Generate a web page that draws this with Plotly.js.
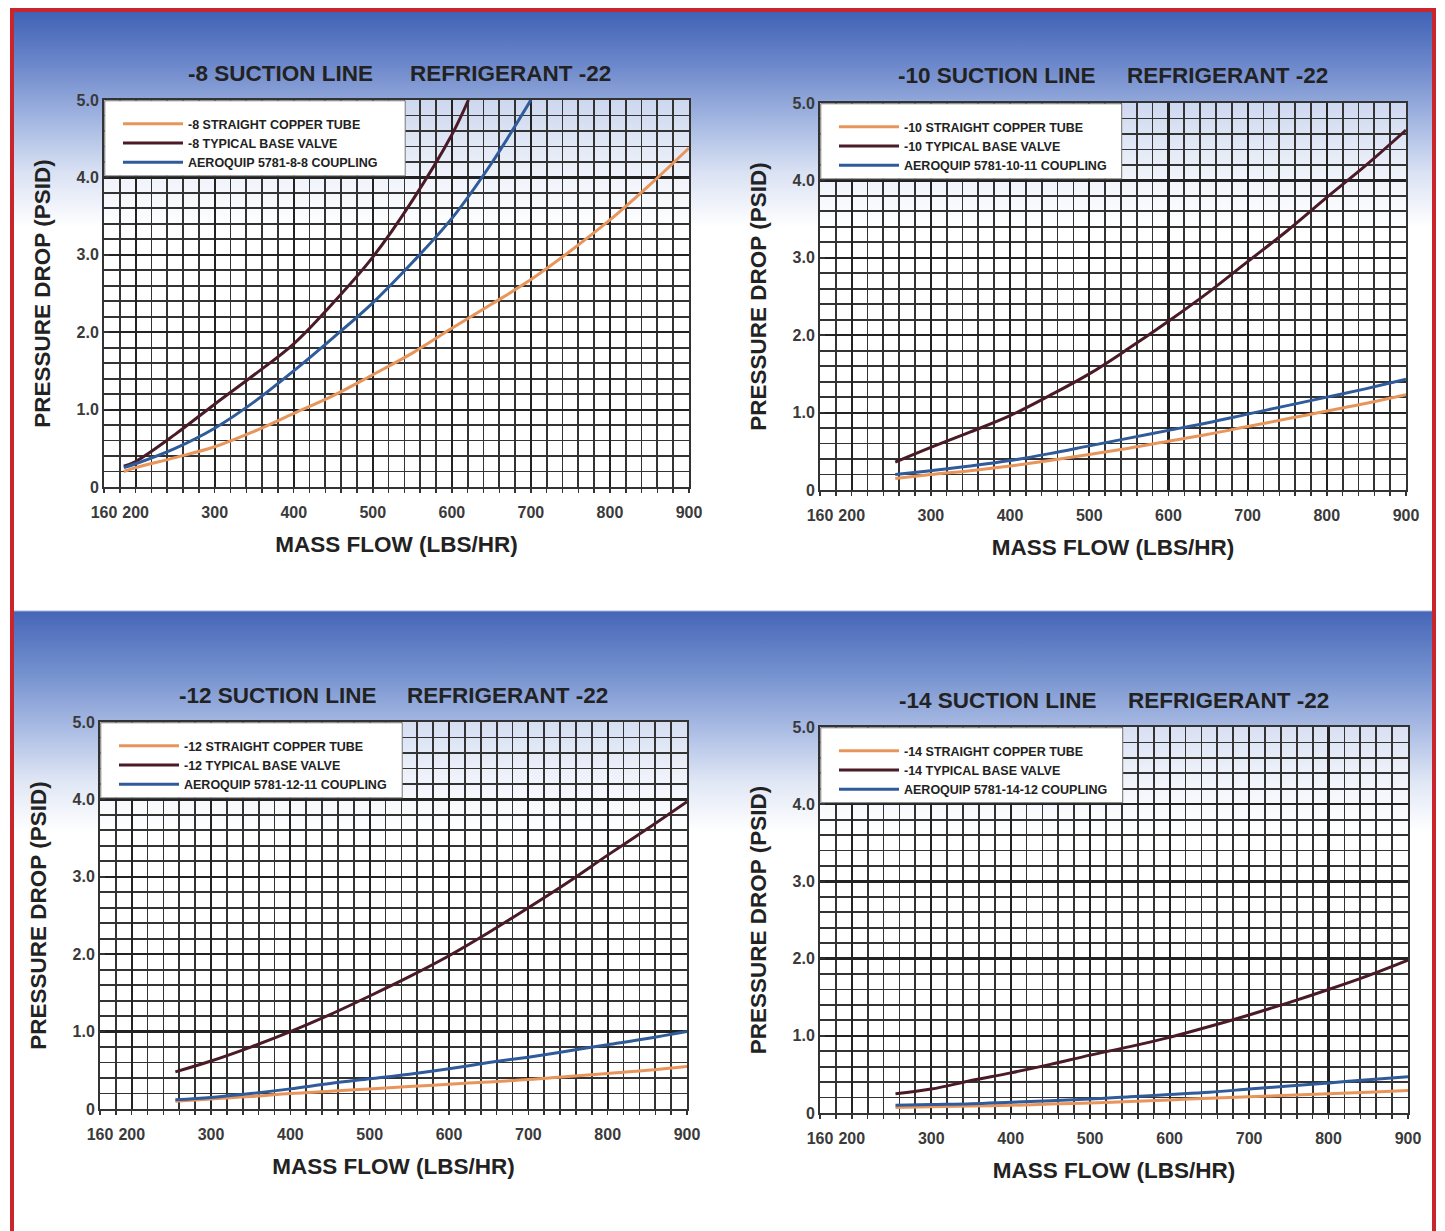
<!DOCTYPE html>
<html>
<head>
<meta charset="utf-8">
<script src="https://cdn.plot.ly/plotly-3.0.1.min.js"></script>
<style>
  html, body { margin:0; padding:0; background:#ffffff; }
  #wrap { position:relative; width:1445px; height:1231px; overflow:hidden; }
  #frame { position:absolute; left:10px; top:8px; width:1426px; height:1240px;
    border:4px solid #c8262c; box-sizing:border-box;
    background: linear-gradient(to bottom,
      #4062b5 0px, #6a86ca 50px, #a5b8e2 110px, #d9e1f3 160px, #ffffff 215px,
      #ffffff 598px, #4766b8 600px, #7390ce 660px, #adbee5 720px, #e0e7f5 770px, #ffffff 820px, #ffffff 100%);
  }
  #chart { position:absolute; left:0; top:0; width:1445px; height:1231px; }
</style>
</head>
<body>
<div id="wrap">
  <div id="frame"></div>
  <div id="chart"></div>
</div>
<script>
// ---------- DATA ----------
// Mass flow (lbs/hr) and pressure drop (psid)
const tube8X     = [185,200,250,300,350,400,450,500,550,600,650,700,750,800,850,900];
const tube8Y     = [0.20,0.25,0.38,0.52,0.72,0.95,1.18,1.45,1.73,2.05,2.36,2.68,3.05,3.45,3.90,4.38];
const valve8X    = [185,200,250,300,350,400,450,500,550,600,621];
const valve8Y    = [0.27,0.33,0.68,1.07,1.45,1.85,2.38,2.97,3.70,4.55,5.00];
const coupling8X = [185,200,250,300,350,400,450,500,550,600,650,700];
const coupling8Y = [0.25,0.30,0.50,0.76,1.10,1.50,1.93,2.38,2.90,3.47,4.18,5.00];

const flowX = [255,300,350,400,450,500,550,600,650,700,750,800,850,900];
const tube10Y     = [0.15,0.20,0.25,0.31,0.38,0.46,0.54,0.63,0.72,0.82,0.92,1.02,1.12,1.23];
const valve10Y    = [0.36,0.55,0.75,0.96,1.22,1.50,1.83,2.18,2.55,2.95,3.35,3.78,4.20,4.65];
const coupling10Y = [0.20,0.25,0.31,0.38,0.47,0.57,0.67,0.77,0.87,0.98,1.09,1.20,1.31,1.43];

const tube12Y     = [0.10,0.13,0.16,0.20,0.23,0.26,0.29,0.32,0.35,0.38,0.42,0.46,0.50,0.55];
const valve12Y    = [0.48,0.62,0.80,1.00,1.22,1.46,1.71,1.98,2.28,2.60,2.93,3.28,3.62,3.97];
const coupling12Y = [0.12,0.15,0.20,0.26,0.33,0.39,0.45,0.52,0.60,0.67,0.75,0.83,0.91,1.00];

const tube14Y     = [0.07,0.08,0.09,0.10,0.115,0.13,0.15,0.17,0.19,0.21,0.23,0.25,0.27,0.29];
const valve14Y    = [0.25,0.31,0.42,0.52,0.63,0.75,0.86,0.98,1.12,1.27,1.43,1.60,1.78,1.98];
const coupling14Y = [0.10,0.11,0.12,0.14,0.16,0.18,0.21,0.24,0.27,0.31,0.35,0.39,0.43,0.47];

const xTickVals = [160,200,300,400,500,600,700,800,900];
const xTickText = ["160","200","300","400","500","600","700","800","900"];
const yTickVals = [0,1,2,3,4,5];
const yTickText = ["0","1.0","2.0","3.0","4.0","5.0"];

const panelTitles = ["-8 SUCTION LINE","-10 SUCTION LINE","-12 SUCTION LINE","-14 SUCTION LINE"];
const refrigerant = "REFRIGERANT -22";
const names8  = ["-8 STRAIGHT COPPER TUBE","-8 TYPICAL BASE VALVE","AEROQUIP 5781-8-8 COUPLING"];
const names10 = ["-10 STRAIGHT COPPER TUBE","-10 TYPICAL BASE VALVE","AEROQUIP 5781-10-11 COUPLING"];
const names12 = ["-12 STRAIGHT COPPER TUBE","-12 TYPICAL BASE VALVE","AEROQUIP 5781-12-11 COUPLING"];
const names14 = ["-14 STRAIGHT COPPER TUBE","-14 TYPICAL BASE VALVE","AEROQUIP 5781-14-12 COUPLING"];

// ---------- STYLE ----------
const W = 1445, H = 1231;
const FONT = '"Liberation Sans", Arial, Helvetica, sans-serif';
const cTube = '#e8955c', cValve = '#4a1b27', cCoup = '#2f5b9b';

// plot areas in pixels [left, right, top, bottom]
const boxes = [
  [104, 689, 100, 487],
  [820, 1406, 103, 490],
  [100, 687, 722, 1109],
  [820, 1408, 727, 1113]
];
const px = v => v / W, py = v => 1 - v / H;

const sets = [
  {names:names8,  data:[[tube8X,tube8Y],[valve8X,valve8Y],[coupling8X,coupling8Y]]},
  {names:names10, data:[[flowX,tube10Y],[flowX,valve10Y],[flowX,coupling10Y]]},
  {names:names12, data:[[flowX,tube12Y],[flowX,valve12Y],[flowX,coupling12Y]]},
  {names:names14, data:[[flowX,tube14Y],[flowX,valve14Y],[flowX,coupling14Y]]}
];
const colors = [cTube, cValve, cCoup];

const traces = [];
const layout = {
  width: W, height: H,
  margin: {l:0, r:0, t:0, b:0},
  paper_bgcolor: 'rgba(0,0,0,0)',
  plot_bgcolor: 'rgba(255,255,255,0.55)',
  showlegend: true,
  font: {family: FONT, color: '#222'},
  annotations: [],
  shapes: []
};

const tickFont = {family: FONT, size: 16, color: '#3a3a3a', weight: 'bold'};
const titleFont = {family: FONT, size: 22.5, color: '#222', weight: 'bold'};

sets.forEach((s, i) => {
  const n = i + 1;
  const xa = n === 1 ? 'x' : 'x' + n;
  const ya = n === 1 ? 'y' : 'y' + n;
  const lg = n === 1 ? 'legend' : 'legend' + n;
  s.data.forEach((d, k) => {
    traces.push({
      type: 'scatter', mode: 'lines',
      x: d[0], y: d[1], name: s.names[k],
      xaxis: xa, yaxis: ya, legend: lg,
      line: {color: colors[k], width: 3, shape: 'spline', smoothing: 1},
      hoverinfo: 'x+y+name'
    });
  });
  const b = boxes[i];
  const xKey = n === 1 ? 'xaxis' : 'xaxis' + n;
  const yKey = n === 1 ? 'yaxis' : 'yaxis' + n;
  layout[xKey] = {
    domain: [px(b[0]), px(b[1])], anchor: ya,
    range: [160, 900], autorange: false,
    tickmode: 'array', tickvals: xTickVals, ticktext: xTickText,
    tickfont: tickFont, ticklabelstandoff: 6,
    ticks: 'outside', ticklen: 4, tickcolor: '#333', tickwidth: 1.5,
    showgrid: true, gridcolor: '#222', gridwidth: 2.2,
    minor: {dtick: 20, tick0: 160, showgrid: true, gridcolor: '#333', gridwidth: 1.8,
            ticks: 'outside', ticklen: 4, tickcolor: '#333'},
    showline: true, linecolor: '#333', linewidth: 2, mirror: true,
    zeroline: false, automargin: false,
    title: {text: 'MASS FLOW (LBS/HR)', standoff: 16, font: titleFont}
  };
  layout[yKey] = {
    domain: [py(b[3]), py(b[2])], anchor: xa,
    range: [0, 5], autorange: false,
    tickmode: 'array', tickvals: yTickVals, ticktext: yTickText,
    tickfont: tickFont,
    ticks: 'inside', ticklen: 5, tickcolor: '#333', tickwidth: 1.5,
    showgrid: true, gridcolor: '#222', gridwidth: 2.2,
    minor: {dtick: 0.2, showgrid: true, gridcolor: '#333', gridwidth: 1.8,
            ticks: 'inside', ticklen: 5, tickcolor: '#333'},
    showline: true, linecolor: '#333', linewidth: 2, mirror: true,
    zeroline: false, automargin: false,
    title: {text: 'PRESSURE DROP (PSID)', standoff: 20, font: titleFont}
  };
  // legend box
  layout.shapes.push({
    type: 'rect', xref: xa, yref: ya, x0: 161, x1: 541, y0: 4.02, y1: 4.99,
    fillcolor: '#ffffff', line: {color: '#777', width: 1}, layer: 'above'
  });
  layout[lg] = {
    x: px(b[0] + 14), y: py(b[2] + 9), xanchor: 'left', yanchor: 'top',
    xref: 'paper', yref: 'paper',
    bgcolor: 'rgba(0,0,0,0)', borderwidth: 0,
    font: {family: FONT, size: 12.5, color: '#222', weight: 'bold'},
    itemwidth: 60, tracegroupgap: 0, traceorder: 'normal'
  };
  // panel titles
  const titleY = py(b[2] - 27);
  const cx = (b[0] + b[1]) / 2;
  layout.annotations.push({
    text: panelTitles[i], xref: 'paper', yref: 'paper',
    x: px(cx - 116), y: titleY, xanchor: 'center', yanchor: 'middle', showarrow: false,
    font: titleFont
  });
  layout.annotations.push({
    text: refrigerant, xref: 'paper', yref: 'paper',
    x: px(cx + 114), y: titleY, xanchor: 'center', yanchor: 'middle', showarrow: false,
    font: titleFont
  });
});

Plotly.newPlot('chart', traces, layout, {displayModeBar: false, staticPlot: true});
</script>
</body>
</html>
